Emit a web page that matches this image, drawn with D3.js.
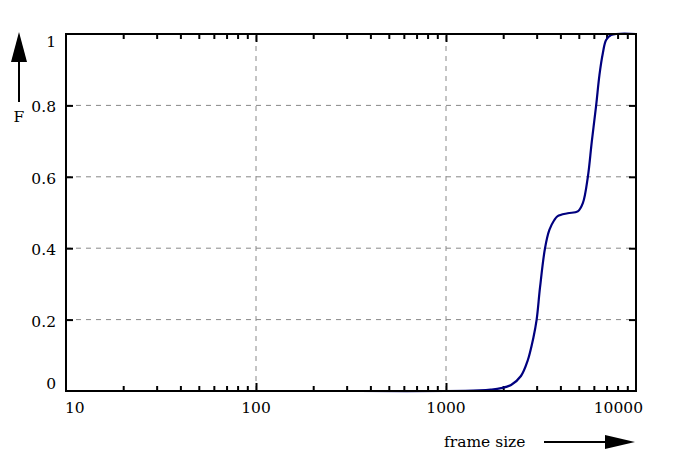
<!DOCTYPE html>
<html>
<head>
<meta charset="utf-8">
<script src="https://cdn.jsdelivr.net/npm/d3@7"></script>
<style>
  body { margin: 0; background: #fff; }
  text { font-family: "DejaVu Serif", serif; font-size: 15.5px; fill: #000; }
</style>
</head>
<body>
<script>
// frame size CDF
var frameSizes = [350, 1000, 1500, 1720, 1950, 2200, 2480, 2690, 2880, 3000, 3125, 3320, 3500, 3716, 3870, 4370, 4940, 5250, 5580, 5850, 6170, 6420, 6690, 6960, 7400, 10000];
var cdfValues  = [0, 0, 0.002, 0.004, 0.008, 0.017, 0.042, 0.085, 0.148, 0.2, 0.29, 0.4, 0.451, 0.479, 0.49, 0.498, 0.503, 0.526, 0.6, 0.698, 0.8, 0.885, 0.946, 0.983, 0.997, 1];

var xTickLabels = [10, 100, 1000, 10000];
var yTickLabels = [0, 0.2, 0.4, 0.6, 0.8, 1];
var xGrid = [100, 1000];
var yGrid = [0.2, 0.4, 0.6, 0.8];

function draw_chart() {
    var width = 687, height = 461;
    var left = 66, right = 636, top = 34, bottom = 391;

    var svg = d3.select("body").append("svg")
                .attr("width", width)
                .attr("height", height);

    var x = d3.scaleLog().domain([10, 10000]).range([left, right]);
    var y = d3.scaleLinear().domain([0, 1]).range([bottom, top]);

    // dashed grid
    svg.selectAll(".vgrid").data(xGrid).enter().append("line")
        .attr("x1", d => x(d)).attr("x2", d => x(d))
        .attr("y1", bottom).attr("y2", top)
        .attr("stroke", "#888").attr("stroke-dasharray", "5,5");
    svg.selectAll(".hgrid").data(yGrid).enter().append("line")
        .attr("x1", left).attr("x2", right)
        .attr("y1", d => y(d)).attr("y2", d => y(d))
        .attr("stroke", "#888").attr("stroke-dasharray", "5,5");

    // minor ticks (inward) on bottom and top
    var minor = x.ticks().filter(d => xTickLabels.indexOf(d) < 0);
    function tickAxis(axis, tr) {
        var g = svg.append("g").attr("transform", tr).call(axis);
        g.select(".domain").remove();
        g.selectAll("text").remove();
        g.selectAll("line").attr("stroke", "#000").attr("stroke-width", 2);
        return g;
    }
    tickAxis(d3.axisBottom(x).tickValues(minor).tickSize(-5), "translate(0," + bottom + ")");
    tickAxis(d3.axisTop(x).tickValues(minor).tickSize(-5), "translate(0," + top + ")");
    tickAxis(d3.axisBottom(x).tickValues(xGrid).tickSize(-8), "translate(0," + bottom + ")");
    tickAxis(d3.axisTop(x).tickValues(xGrid).tickSize(-8), "translate(0," + top + ")");
    tickAxis(d3.axisLeft(y).tickValues(yGrid).tickSize(-7), "translate(" + left + ",0)");
    tickAxis(d3.axisRight(y).tickValues(yGrid).tickSize(-7), "translate(" + right + ",0)");

    // tick labels
    svg.selectAll(".xlab").data(xTickLabels).enter().append("text")
        .attr("x", (d, i) => i === 0 ? x(d) - 1 : (i === xTickLabels.length - 1 ? x(d) + 7 : x(d)))
        .attr("y", 413)
        .attr("text-anchor", (d, i) => i === 0 ? "start" : (i === xTickLabels.length - 1 ? "end" : "middle"))
        .text(d => d);
    svg.selectAll(".ylab").data(yTickLabels).enter().append("text")
        .attr("x", 56)
        .attr("y", d => y(d) + (d === 0 ? -2 : (d === 1 ? 13 : 7)))
        .attr("text-anchor", "end")
        .text(d => d);

    // the curve
    var line = d3.line()
        .x((d, i) => x(frameSizes[i]))
        .y(d => y(d))
        .curve(d3.curveCatmullRom.alpha(0.5));
    svg.append("path")
        .datum(cdfValues)
        .attr("d", line)
        .attr("fill", "none")
        .attr("stroke", "#00007f")
        .attr("stroke-width", 2.2);

    // frame
    svg.append("rect")
        .attr("x", left).attr("y", top)
        .attr("width", right - left).attr("height", bottom - top)
        .attr("fill", "none").attr("stroke", "#000").attr("stroke-width", 2);

    // axis names with arrows
    svg.append("line").attr("x1", 19).attr("x2", 19).attr("y1", 102).attr("y2", 58)
        .attr("stroke", "#000").attr("stroke-width", 2);
    svg.append("path").attr("d", "M19,32 L11,62 L27,62 Z").attr("fill", "#000");
    svg.append("text").attr("x", 19).attr("y", 122).attr("text-anchor", "middle").text("F");

    svg.append("text").attr("x", 444).attr("y", 447).text("frame size");
    svg.append("line").attr("x1", 544).attr("x2", 608).attr("y1", 442).attr("y2", 442)
        .attr("stroke", "#000").attr("stroke-width", 2);
    svg.append("path").attr("d", "M635,442 L605,435 L605,449 Z").attr("fill", "#000");
}

document.addEventListener("DOMContentLoaded", draw_chart);
</script>
</body>
</html>
